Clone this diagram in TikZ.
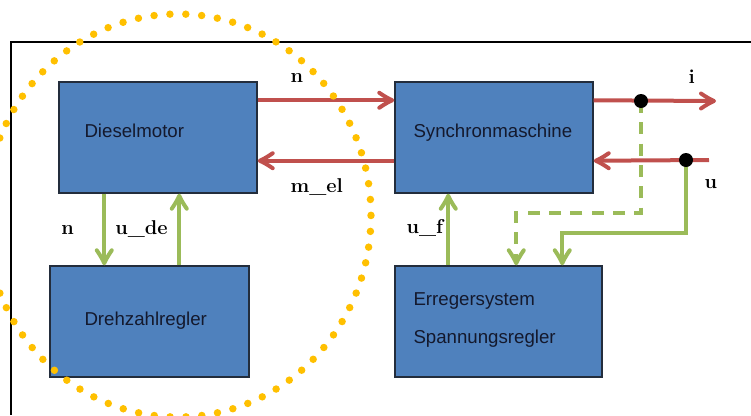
\documentclass[tikz,border=0pt]{standalone}
\usepackage{fontspec}
\newfontfamily\blockfont{Liberation Sans}
\usetikzlibrary{calc}

\definecolor{blockblue}{RGB}{79,129,189}
\definecolor{blockedge}{RGB}{35,45,60}
\definecolor{blocktext}{RGB}{20,25,45}
\definecolor{flowred}{RGB}{192,80,77}
\definecolor{flowgreen}{RGB}{155,187,89}
\definecolor{ringyellow}{RGB}{255,192,0}

\tikzset{every picture/.style={line width=0.75pt}}
\tikzset{
  block/.style={draw=blockedge, fill=blockblue, line width=1.1pt, minimum height=83.25pt, inner sep=0pt},
  blocklabel/.style={anchor=base west, inner sep=0.75pt, text=blocktext, font=\blockfont\fontsize{14}{17}\selectfont},
  siglabel/.style={anchor=base west, inner sep=0.75pt, font=\fontsize{15}{18}\selectfont\bfseries},
  redflow/.style={draw=flowred, line width=3pt, shorten >=3pt},
  greenflow/.style={draw=flowgreen, line width=3pt, shorten >=3pt},
  redhead/.style={draw=flowred, line width=3pt, line cap=round, line join=round},
  greenhead/.style={draw=flowgreen, line width=3pt, line cap=round, line join=round},
  junction/.style={circle, fill=black, inner sep=0pt, minimum size=10.5pt},
  dotring/.style={draw=ringyellow, line width=5.6pt, line cap=round, dash pattern=on 0pt off 11.918pt},
}

\begin{document}
\begin{tikzpicture}[x=0.75pt,y=0.75pt,yscale=-1,xscale=1]
\useasboundingbox (0,0) rectangle (751,415);

%Frame
\draw [line width=1.5pt] (751,42) -- (11,42) -- (11,415);

%Blocks
\node [block, minimum width=148.5pt] (diesel) at (158,137.5) {};
\node [block, minimum width=148.5pt] (synch) at (494,137.5) {};
\node [block, minimum width=149.25pt] (drehzahl) at (149.5,321.5) {};
\node [block, minimum width=155.25pt] (erreger) at (498.5,321.5) {};

% Text Node
\node [blocklabel] (dieseltxt) at (83,137) {Dieselmotor};
% Text Node
\node [blocklabel] (synchtxt) at (412,137) {Synchronmaschine};
% Text Node
\node [blocklabel] (drehzahltxt) at (83,325) {Drehzahlregler};
% Text Node
\node [blocklabel] (erregertxt) at (412,305) {Erregersystem};
% Text Node
\node [blocklabel] (spannungtxt) at (412,343) {Spannungsregler};

%Connector ends
\coordinate (dieselN) at ($(diesel.north east)+(0,19)$);
\coordinate (synchN) at ($(synch.north west)+(0,19)$);
\coordinate (synchM) at ($(synch.south west)+(0,-33)$);
\coordinate (dieselM) at ($(diesel.south east)+(0,-33)$);
\coordinate (synchI) at ($(synch.north east)+(0,19)$);
\coordinate (synchU) at ($(synch.south east)+(0,-33)$);
\coordinate (iend) at (716,101);
\coordinate (uend) at (709,160);
\coordinate (ji) at (641,101);
\coordinate (ju) at (686,160);
\coordinate (nTop) at ($(diesel.south west)+(46,0)$);
\coordinate (nBot) at (nTop |- drehzahl.north);
\coordinate (udeBot) at ($(drehzahl.north west)+(130,0)$);
\coordinate (udeTop) at (udeBot |- diesel.south);
\coordinate (ufBot) at ($(erreger.north west)+(54,0)$);
\coordinate (ufTop) at (ufBot |- synch.south);
\coordinate (iIn) at ($(erreger.north west)+(122,0)$);
\coordinate (uIn) at ($(erreger.north west)+(168,0)$);

%Straight Lines n
\draw [redflow] (dieselN) -- (synchN);
\draw [shift={(synchN)}, rotate = 180] [redhead] (15,-7.5) .. controls (10,-4) and (5,-1.2) .. (2,0) .. controls (5,1.2) and (10,4) .. (15,7.5);
%Straight Lines m_el
\draw [redflow] (synchM) -- (dieselM);
\draw [shift={(dieselM)}, rotate = 0] [redhead] (15,-7.5) .. controls (10,-4) and (5,-1.2) .. (2,0) .. controls (5,1.2) and (10,4) .. (15,7.5);
%Straight Lines i
\draw [redflow] (synchI) -- (iend);
\draw [shift={(iend)}, rotate = 180] [redhead] (15,-7.5) .. controls (10,-4) and (5,-1.2) .. (2,0) .. controls (5,1.2) and (10,4) .. (15,7.5);
%Straight Lines u
\draw [redflow] (uend) -- (synchU);
\draw [shift={(synchU)}, rotate = 0] [redhead] (15,-7.5) .. controls (10,-4) and (5,-1.2) .. (2,0) .. controls (5,1.2) and (10,4) .. (15,7.5);

%Straight Lines n to Drehzahlregler
\draw [greenflow] (nTop) -- (nBot);
\draw [shift={(nBot)}, rotate = 270] [greenhead] (15,-7.5) .. controls (10,-4) and (5,-1.2) .. (2,0) .. controls (5,1.2) and (10,4) .. (15,7.5);
%Straight Lines u_de
\draw [greenflow] (udeBot) -- (udeTop);
\draw [shift={(udeTop)}, rotate = 90] [greenhead] (15,-7.5) .. controls (10,-4) and (5,-1.2) .. (2,0) .. controls (5,1.2) and (10,4) .. (15,7.5);
%Straight Lines u_f
\draw [greenflow] (ufBot) -- (ufTop);
\draw [shift={(ufTop)}, rotate = 90] [greenhead] (15,-7.5) .. controls (10,-4) and (5,-1.2) .. (2,0) .. controls (5,1.2) and (10,4) .. (15,7.5);
%Dashed feedback of i
\draw [greenflow, dash pattern=on 9pt off 7pt] (ji) -- ++(0,112) -| (iIn);
\draw [shift={(iIn)}, rotate = 270] [greenhead] (15,-7.5) .. controls (10,-4) and (5,-1.2) .. (2,0) .. controls (5,1.2) and (10,4) .. (15,7.5);
%Feedback of u
\draw [greenflow] (ju) -- ++(0,73) -| (uIn);
\draw [shift={(uIn)}, rotate = 270] [greenhead] (15,-7.5) .. controls (10,-4) and (5,-1.2) .. (2,0) .. controls (5,1.2) and (10,4) .. (15,7.5);

%Branch points
\node [junction] (jidot) at (ji) {};
\node [junction] (judot) at (ju) {};

% Text Node
\node [siglabel] (lbln) at (289,82) {n};
% Text Node
\node [siglabel] (lblmel) at (289,192) {m\_el};
% Text Node
\node [siglabel] (lbli) at (687,83) {i};
% Text Node
\node [siglabel] (lblu) at (703,188) {u};
% Text Node
\node [siglabel] (lbluf) at (405,233) {u\_f};
% Text Node
\node [siglabel] (lblnd) at (60,234) {n};
% Text Node
\node [siglabel] (lblude) at (114,234) {u\_de};

%Dotted ring
\begin{scope}
\clip (0,0) rectangle (751,415);
\draw [dotring] (178,215.5) ellipse [x radius=193, y radius=201.5];
\end{scope}

\end{tikzpicture}
\end{document}
